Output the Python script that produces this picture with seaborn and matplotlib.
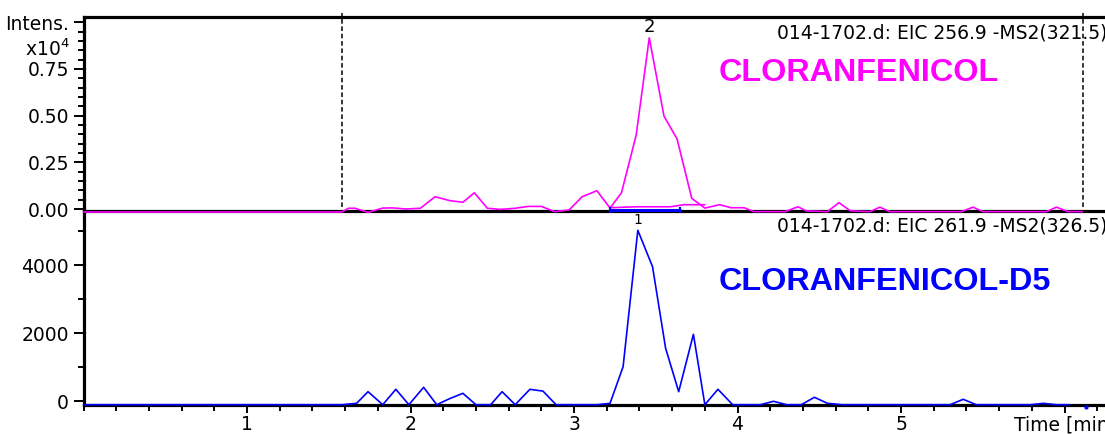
import matplotlib
matplotlib.use("Agg")
import matplotlib.pyplot as plt
import seaborn as sns
from matplotlib.ticker import MultipleLocator, FixedLocator

# EIC 256.9 -MS2(321.5), intensity in units of 1e4
cap_time = [0.00, 1.58, 1.62, 1.66, 1.74, 1.83, 1.89, 1.97, 2.06, 2.15, 2.24, 2.32,
            2.39, 2.47, 2.55, 2.64, 2.72, 2.80, 2.88, 2.97, 3.05, 3.14, 3.22, 3.29,
            3.38, 3.46, 3.55, 3.63, 3.72, 3.80, 3.89, 3.96, 4.04, 4.10, 4.29, 4.37,
            4.42, 4.55, 4.62, 4.69, 4.81, 4.87, 4.93, 5.37, 5.44, 5.50, 5.89, 5.95,
            6.02, 6.11]
cap_int = [-0.016, -0.016, 0.004, 0.004, -0.018, 0.005, 0.006, 0.000, 0.004, 0.066,
           0.045, 0.036, 0.087, 0.004, -0.002, 0.004, 0.014, 0.014, -0.014, -0.005,
           0.066, 0.098, 0.005, 0.087, 0.396, 0.917, 0.498, 0.375, 0.057, 0.005,
           0.023, 0.007, 0.007, -0.014, -0.014, 0.012, -0.010, -0.014, 0.034, -0.010,
           -0.014, 0.010, -0.014, -0.014, 0.010, -0.014, -0.014, 0.010, -0.014, -0.014]
# integration baseline under peak 2
cap_base_time = [3.22, 3.38, 3.59, 3.67, 3.80]
cap_base_int = [0.007, 0.012, 0.012, 0.023, 0.023]

# EIC 261.9 -MS2(326.5)
d5_time = [0.00, 1.58, 1.67, 1.74, 1.83, 1.91, 1.99, 2.08, 2.16, 2.24, 2.32, 2.40,
           2.49, 2.56, 2.64, 2.73, 2.81, 2.89, 3.14, 3.22, 3.30, 3.39, 3.48, 3.56,
           3.64, 3.73, 3.80, 3.88, 3.97, 4.14, 4.22, 4.30, 4.39, 4.47, 4.55, 4.64,
           5.30, 5.38, 5.46, 5.79, 5.87, 5.95, 6.03]
d5_int = [-100, -100, -60, 283, -100, 353, -100, 412, -100, 80, 235, -100,
          -100, 283, -100, 353, 300, -100, -100, -60, 1018, 5030, 3959, 1559,
          283, 1970, -100, 353, -100, -100, 0, -100, -100, 118, -60, -100,
          -100, 59, -100, -100, -60, -100, -100]
d5_extra_time = [6.13]
d5_extra_int = [-170]
d5_peak_limits = [3.22, 3.65]

cap_peak_time = 3.46
d5_peak_time = 3.39
segment_marks = [1.58, 6.11]

x_ticks = [1, 2, 3, 4, 5, 6]
x_labels = ["1", "2", "3", "4", "5", "Time [min]"]
top_yticks = [0.0, 0.25, 0.50, 0.75, 1.0]
top_ylabels = ["0.00", "0.25", "0.50", "0.75", "Intens."]
bot_yticks = [0, 2000, 4000]
bot_ylabels = ["0", "2000", "4000"]

MAGENTA = "#FF00FF"
BLUE = "#0000FF"

sns.set_style("ticks")
plt.rcParams["font.family"] = ["DejaVu Sans"]
plt.rcParams["font.size"] = 13.5
plt.rcParams["text.color"] = "black"
plt.rcParams["xtick.color"] = "black"
plt.rcParams["ytick.color"] = "black"

fig = plt.figure(figsize=(11.05, 4.34), dpi=100)
ax_bot = fig.add_axes([0.0756, 0.0668, 0.947, 0.4463])
ax_top = fig.add_axes([0.0756, 0.5131, 0.947, 0.447], sharex=ax_bot)
ax_top.patch.set_visible(False)
ax_bot.patch.set_visible(False)

sns.lineplot(x=cap_time, y=cap_int, ax=ax_top, color=MAGENTA, lw=1.2,
             estimator=None, sort=False, zorder=3, clip_on=False)
sns.lineplot(x=cap_base_time, y=cap_base_int, ax=ax_top, color=MAGENTA, lw=1.2,
             estimator=None, sort=False, zorder=3)
sns.lineplot(x=d5_time, y=d5_int, ax=ax_bot, color=BLUE, lw=1.2,
             estimator=None, sort=False, zorder=3, clip_on=False)
ax_bot.plot(d5_extra_time, d5_extra_int, ls="none", marker="o", ms=2,
            color=BLUE, clip_on=False, zorder=3)

# integration bar for peak 1 sitting on the panel boundary
ax_top.plot(d5_peak_limits, [-0.003, -0.003], color=BLUE, lw=2.2,
            marker="|", ms=5, mew=1.5, clip_on=False, zorder=4)

for x in segment_marks:
    ax_top.axvline(x, ymin=0.022, ymax=1.022, color="black", lw=1.1,
                   ls=(0, (3, 1.8)), clip_on=False, zorder=1)

ax_top.set_xlim(0, 6.4)
ax_top.set_ylim(-0.0123, 1.0268)
ax_bot.set_ylim(-109, 5588)

for ax in (ax_top, ax_bot):
    ax.spines["right"].set_visible(False)
    for s in ("left", "top", "bottom"):
        ax.spines[s].set_linewidth(2.3)
        ax.spines[s].set_color("black")
    ax.set_xlabel("")
    ax.set_ylabel("")
    ax.tick_params(axis="y", which="major", length=7, width=1.4, pad=3.5,
                   labelsize=13.5, colors="black")
    ax.tick_params(axis="y", which="minor", length=4.5, width=1.4)

ax_top.yaxis.set_major_locator(FixedLocator(top_yticks))
ax_top.set_yticklabels(top_ylabels)
ax_top.yaxis.set_minor_locator(MultipleLocator(0.05))
ax_top.tick_params(axis="x", which="both", bottom=False, labelbottom=False)

ax_bot.spines["top"].set_visible(False)
ax_bot.yaxis.set_major_locator(FixedLocator(bot_yticks))
ax_bot.set_yticklabels(bot_ylabels)
ax_bot.yaxis.set_minor_locator(FixedLocator([1000, 3000, 5000]))
ax_bot.set_xticks(x_ticks)
ax_bot.set_xticklabels(x_labels)
ax_bot.xaxis.set_minor_locator(MultipleLocator(0.2))
ax_bot.tick_params(axis="x", which="major", length=6, width=1.4, pad=1.5,
                   labelsize=13.5, colors="black")
ax_bot.tick_params(axis="x", which="minor", length=4.5, width=1.4)

fig.text(70 / 1105, 1 - 49 / 434, r"x10$^4$", ha="right", va="center", fontsize=13.5)

# peak labels
ax_top.text(cap_peak_time, 0.926, "2", transform=ax_top.get_xaxis_transform(),
            ha="center", va="baseline", fontsize=13)
ax_bot.text(d5_peak_time, 0.993, "1", transform=ax_bot.get_xaxis_transform(),
            ha="center", va="top", fontsize=10)

# trace headers
fig.text(777 / 1105, 1 - 38.3 / 434, "014-1702.d: EIC 256.9 -MS2(321.5)",
         ha="left", va="baseline", fontsize=13.5)
fig.text(777 / 1105, 1 - 231 / 434, "014-1702.d: EIC 261.9 -MS2(326.5)",
         ha="left", va="baseline", fontsize=13.5)

fig.text(719 / 1105, 1 - 81 / 434, "CLORANFENICOL", color=MAGENTA,
         family="Liberation Sans", weight="bold", fontsize=23.3, va="baseline")
fig.text(719 / 1105, 1 - 290 / 434, "CLORANFENICOL-D5", color=BLUE,
         family="Liberation Sans", weight="bold", fontsize=23.3, va="baseline")

fig.savefig("out.png", dpi=100)
